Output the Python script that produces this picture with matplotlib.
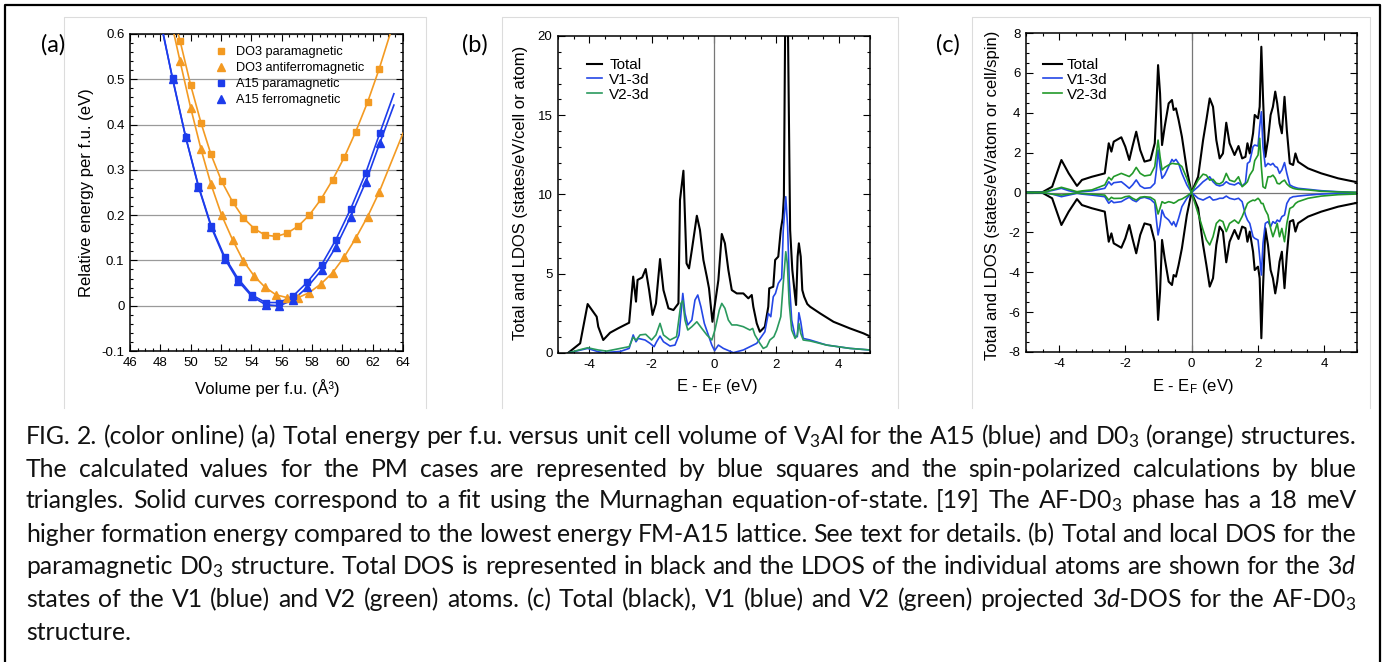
import numpy as np
import matplotlib
matplotlib.use("Agg")
import matplotlib.pyplot as plt
from matplotlib.ticker import MultipleLocator, FuncFormatter
from matplotlib.lines import Line2D

W, H = 1393, 662

# ---------------- panel (a): energy vs volume ----------------
vol_d03 = [49.30, 50.00, 50.68, 51.34, 52.04, 52.77, 53.47, 54.20, 54.90, 55.63,
           56.35, 57.10, 57.82, 58.59, 59.36, 60.13, 60.88, 61.67, 62.42]
e_d03_pm = [0.585, 0.487, 0.404, 0.334, 0.275, 0.229, 0.194, 0.170, 0.156, 0.153,
            0.160, 0.176, 0.200, 0.235, 0.278, 0.328, 0.384, 0.450, 0.522]
e_d03_af = [0.540, 0.437, 0.346, 0.268, 0.200, 0.145, 0.099, 0.065, 0.041, 0.024,
            0.018, 0.018, 0.029, 0.048, 0.073, 0.108, 0.149, 0.197, 0.250]

vol_a15 = [48.81, 49.67, 50.51, 51.36, 52.24, 53.12, 54.02, 54.95, 55.85, 56.77,
           57.69, 58.64, 59.58, 60.55, 61.54, 62.48]
e_a15_pm = [0.502, 0.373, 0.265, 0.176, 0.108, 0.060, 0.024, 0.007, 0.007, 0.022,
            0.052, 0.091, 0.146, 0.214, 0.293, 0.382]
e_a15_fm = [0.500, 0.372, 0.263, 0.173, 0.104, 0.055, 0.021, 0.002, 0.000, 0.013,
            0.041, 0.079, 0.130, 0.197, 0.273, 0.360]

# where the fitted curves leave the frame (volume, energy)
fit_left = {"d03_pm": (49.18, 0.6), "d03_af": (48.90, 0.6), "a15_pm": (48.18, 0.6), "a15_fm": (48.20, 0.6)}
fit_right = {"d03_pm": (63.15, 0.6), "d03_af": (64.0, 0.381), "a15_pm": (63.4, 0.468), "a15_fm": (63.4, 0.443)}

# ---------------- panel (b): DOS of paramagnetic D03 ----------------
b_tot_e = [-4.68, -4.29, -4.05, -3.76, -3.71, -3.55, -3.33, -3.07, -2.72, -2.59,
           -2.50, -2.45, -2.30, -2.19, -2.08, -1.97, -1.86, -1.73, -1.62, -1.46,
           -1.30, -1.14, -1.09, -0.98, -0.88, -0.80, -0.71, -0.55, -0.45, -0.34,
           -0.23, -0.16, -0.05, 0.14, 0.25, 0.35, 0.46, 0.57, 0.73, 0.94,
           1.10, 1.21, 1.26, 1.37, 1.47, 1.63, 1.74, 1.77, 1.90, 1.96,
           2.06, 2.14, 2.20, 2.24, 2.28, 2.32, 2.37, 2.44, 2.51, 2.60,
           2.63, 2.68, 2.72, 2.78, 2.83, 2.89, 2.99, 3.08, 3.40, 3.83,
           4.36, 4.79, 5.0]
b_tot = [0.0, 0.61, 3.09, 2.29, 1.66, 0.82, 1.28, 1.56, 1.91, 4.82,
         3.24, 4.61, 4.77, 5.30, 3.97, 2.40, 3.13, 5.93, 3.97, 2.82,
         2.71, 3.13, 9.65, 11.50, 5.65, 5.34, 6.50, 8.66, 7.76, 5.87,
         4.81, 4.08, 1.97, 4.60, 7.51, 6.92, 5.24, 3.97, 3.76, 3.76,
         3.45, 3.66, 2.92, 1.87, 1.34, 1.66, 2.92, 4.08, 4.18, 5.87,
         6.08, 7.76, 8.50, 9.86, 20.5, 25.0, 20.5, 7.76, 5.24, 3.55,
         3.03, 6.08, 6.92, 6.08, 3.97, 3.55, 3.09, 2.92, 2.50, 1.97,
         1.55, 1.24, 1.05]

b_v1_e = [-4.68, -4.05, -3.71, -3.55, -3.00, -2.72, -2.59, -2.50, -2.43, -2.21,
          -2.05, -1.92, -1.84, -1.73, -1.62, -1.41, -1.25, -1.12, -1.00, -0.93,
          -0.84, -0.71, -0.61, -0.52, -0.42, -0.31, -0.20, -0.07, 0.02, 0.14,
          0.30, 0.62, 0.94, 1.37, 1.63, 1.74, 1.82, 1.90, 1.97, 2.06,
          2.17, 2.22, 2.30, 2.36, 2.41, 2.49, 2.60, 2.67, 2.72, 2.78,
          2.86, 3.08, 3.61, 4.36, 5.0]
b_v1 = [0.0, 0.29, 0.08, 0.02, 0.10, 0.29, 1.14, 0.71, 0.92, 0.82,
        0.61, 0.40, 0.71, 1.07, 0.71, 0.44, 0.50, 1.14, 3.76, 2.50,
        1.77, 2.08, 3.34, 3.66, 2.92, 1.87, 1.24, 0.50, 0.15, 0.50,
        0.29, 0.02, 0.19, 0.61, 1.34, 2.50, 2.29, 3.55, 3.76, 4.39,
        4.71, 7.76, 9.86, 7.97, 4.61, 2.08, 1.03, 1.03, 2.54, 1.97,
        0.92, 0.82, 0.50, 0.29, 0.19]

b_v2_e = [-4.68, -4.29, -4.05, -3.71, -3.44, -2.72, -2.59, -2.50, -2.37, -2.19,
          -2.00, -1.86, -1.73, -1.62, -1.41, -1.20, -1.06, -1.00, -0.93, -0.84,
          -0.71, -0.55, -0.39, -0.23, -0.07, 0.03, 0.17, 0.25, 0.35, 0.46,
          0.57, 0.73, 0.94, 1.15, 1.24, 1.31, 1.47, 1.58, 1.69, 1.79,
          1.92, 2.01, 2.14, 2.22, 2.30, 2.35, 2.41, 2.49, 2.60, 2.67,
          2.72, 2.78, 2.86, 3.08, 3.61, 4.36, 5.0]
b_v2 = [0.0, 0.21, 0.33, 0.19, 0.12, 0.40, 1.00, 0.80, 1.14, 1.18,
        0.82, 1.14, 1.87, 1.14, 0.82, 1.03, 3.13, 3.30, 2.08, 1.45,
        1.66, 1.97, 1.55, 1.14, 0.82, 1.45, 2.71, 3.13, 2.82, 2.08,
        1.77, 1.77, 1.66, 1.45, 1.55, 1.14, 0.61, 0.29, 0.40, 0.82,
        1.03, 1.45, 2.29, 4.39, 6.39, 5.65, 3.13, 1.45, 0.92, 1.14,
        1.87, 1.24, 0.82, 0.76, 0.50, 0.29, 0.19]

# ---------------- panel (c): spin-resolved DOS of AF-D03 ----------------
c_e = [-4.97, -4.52, -4.21, -3.93, -3.71, -3.46, -3.31, -3.01, -2.62, -2.50,
       -2.42, -2.35, -2.12, -2.00, -1.88, -1.78, -1.67, -1.55, -1.42, -1.24,
       -1.11, -1.06, -1.01, -0.95, -0.89, -0.81, -0.69, -0.59, -0.54, -0.47,
       -0.39, -0.29, -0.14, 0.00, 0.20, 0.35, 0.45, 0.55, 0.65, 0.75,
       0.85, 0.95, 1.05, 1.15, 1.30, 1.42, 1.53, 1.63, 1.69, 1.76,
       1.86, 1.91, 2.01, 2.06, 2.11, 2.16, 2.23, 2.31, 2.39, 2.46,
       2.53, 2.59, 2.66, 2.73, 2.81, 2.88, 2.97, 3.07, 3.14, 3.22,
       3.52, 3.92, 4.43, 4.93, 5.00]
c_tot = [0.0, 0.0, 0.29, 1.63, 0.96, 0.33, 0.63, 0.79, 0.96, 2.47,
         2.05, 2.55, 2.77, 2.30, 1.63, 2.33, 3.05, 2.13, 1.55, 1.63,
         2.47, 4.30, 6.39, 4.97, 2.38, 3.30, 4.47, 4.64, 4.14, 4.22,
         3.64, 2.80, 1.13, 0.0, 0.79, 2.63, 3.64, 4.72, 4.30, 2.63,
         1.71, 1.96, 3.50, 2.47, 1.88, 2.33, 1.71, 1.79, 2.47, 1.96,
         2.97, 3.89, 3.72, 4.30, 7.31, 4.80, 1.79, 2.63, 3.89, 4.30,
         5.06, 4.47, 3.47, 2.97, 4.80, 3.13, 1.46, 1.38, 1.96, 1.54,
         1.21, 0.96, 0.71, 0.54, 0.53]
c_v1_up = [0.0, 0.0, 0.10, 0.21, 0.09, 0.0, 0.04, 0.08, 0.21, 0.54,
           0.38, 0.49, 0.54, 0.38, 0.21, 0.38, 0.63, 0.33, 0.21, 0.24,
           0.46, 1.13, 2.13, 1.30, 0.71, 0.88, 1.30, 1.66, 1.55, 1.66,
           1.46, 0.96, 0.38, 0.0, 0.29, 0.54, 0.66, 0.79, 0.54, 0.38,
           0.33, 0.38, 0.54, 0.43, 0.38, 0.49, 0.33, 0.49, 1.46, 1.55,
           2.30, 2.38, 2.33, 3.30, 4.05, 2.30, 1.30, 1.46, 1.38, 1.46,
           1.30, 1.26, 0.96, 1.13, 1.50, 0.96, 0.38, 0.29, 0.25, 0.21,
           0.16, 0.09, 0.04, 0.01, 0.01]
c_v2_up = [0.0, 0.0, 0.13, 0.26, 0.16, 0.04, 0.08, 0.13, 0.38, 0.76,
           0.63, 0.80, 0.96, 0.88, 0.80, 0.96, 1.26, 0.96, 0.83, 0.88,
           1.30, 1.96, 2.63, 1.80, 1.13, 1.26, 1.38, 1.46, 1.45, 1.43,
           1.43, 1.30, 0.71, 0.0, 0.62, 0.92, 0.87, 0.62, 0.66, 0.46,
           0.43, 0.54, 0.96, 0.62, 0.54, 0.79, 0.29, 0.43, 0.54, 0.87,
           1.13, 1.60, 1.88, 2.72, 1.30, 0.29, 0.21, 0.79, 0.79, 0.87,
           0.71, 0.46, 0.43, 0.54, 0.62, 0.43, 0.29, 0.21, 0.18, 0.16,
           0.13, 0.06, 0.03, 0.01, 0.01]
c_v1_dn = [0.0, 0.0, -0.08, -0.21, -0.13, -0.04, -0.08, -0.13, -0.21, -0.54,
           -0.41, -0.51, -0.46, -0.34, -0.24, -0.38, -0.46, -0.29, -0.24, -0.34,
           -0.54, -1.38, -2.13, -1.63, -0.88, -1.21, -1.38, -1.63, -1.46, -1.71,
           -1.30, -0.71, -0.29, 0.0, -0.29, -0.38, -0.29, -0.21, -0.38, -0.35,
           -0.29, -0.29, -0.18, -0.29, -0.35, -0.29, -0.46, -1.13, -1.38, -1.55,
           -2.22, -2.30, -2.38, -3.22, -4.14, -2.55, -1.55, -1.46, -1.71, -1.46,
           -1.55, -1.38, -1.46, -1.21, -1.13, -0.55, -0.29, -0.21, -0.20, -0.18,
           -0.13, -0.08, -0.04, -0.03, -0.03]
c_v2_dn = [0.0, 0.0, -0.08, -0.13, -0.08, -0.02, -0.05, -0.08, -0.13, -0.38,
           -0.24, -0.30, -0.29, -0.21, -0.18, -0.29, -0.38, -0.24, -0.21, -0.24,
           -0.38, -0.71, -1.08, -0.79, -0.46, -0.54, -0.46, -0.50, -0.54, -0.48,
           -0.38, -0.33, -0.18, 0.0, -1.05, -1.88, -2.38, -2.63, -2.22, -1.55,
           -1.38, -1.46, -1.96, -1.55, -1.38, -1.55, -1.21, -0.80, -0.55, -0.46,
           -0.38, -0.41, -0.29, -0.38, -0.55, -0.55, -0.88, -1.13, -1.80, -2.22,
           -1.88, -1.55, -2.22, -1.80, -2.47, -1.55, -0.80, -0.71, -0.55, -0.46,
           -0.29, -0.18, -0.11, -0.08, -0.08]

caption_lines = [
    "FIG. 2. (color online) (a) Total energy per f.u. versus unit cell volume of V$_3$Al for the A15 (blue) and D0$_3$ (orange) structures.",
    "The calculated values for the PM cases are represented by blue squares and the spin-polarized calculations by blue",
    "triangles. Solid curves correspond to a fit using the Murnaghan equation-of-state. [19] The AF-D0$_3$ phase has a 18 meV",
    "higher formation energy compared to the lowest energy FM-A15 lattice. See text for details. (b) Total and local DOS for the",
    "paramagnetic D0$_3$ structure. Total DOS is represented in black and the LDOS of the individual atoms are shown for the 3$d$",
    "states of the V1 (blue) and V2 (green) atoms. (c) Total (black), V1 (blue) and V2 (green) projected 3$d$-DOS for the AF-D0$_3$",
    "structure.",
]

ORANGE = "#F39A22"
BLUE_A = "#1D3CEB"
BLUE = "#2447E6"
GREEN_B = "#2A9A5E"
GREEN_C = "#22992A"

plt.rc("font", family="Liberation Sans", size=9.5)
plt.rc("axes", unicode_minus=False)
plt.rc("mathtext", fontset="custom", rm="Lato", it="Lato:italic", sf="Liberation Sans")

fig = plt.figure(figsize=(W / 100, H / 100), dpi=100)


def ptext(x, y, s, **kw):
    return fig.text(x / W, 1 - y / H, s, **kw)


def px_axes(left, top, right, bottom):
    return fig.add_axes([left / W, 1 - bottom / H, (right - left) / W, (bottom - top) / H])


def style(ax):
    ax.tick_params(which="both", direction="in", top=True, right=True, width=0.8, labelsize=9.5, pad=4)
    ax.tick_params(which="major", length=5)
    ax.tick_params(which="minor", length=2.5)
    for s in ax.spines.values():
        s.set_linewidth(1.1)


def frame_line(xs, ys, **kw):
    fig.add_artist(Line2D([x / W for x in xs], [1 - y / H for y in ys], transform=fig.transFigure, **kw))


# outer box and the faint frames of the three images
frame_line([5, 5, 1380, 1380], [700, 5, 5, 700], color="black", lw=1.6)
for l, r in [(64, 426), (502, 898), (972, 1370)]:
    frame_line([l, l, r, r], [408, 17, 17, 408], color="#dcdcdc", lw=0.8)

# ---------------- (a) ----------------
ax = px_axes(130, 34, 403, 351)
style(ax)
ax.set_axisbelow(True)
ax.yaxis.grid(True, which="major", color="#9a9a9a", lw=0.9)
for key, vols, es, col in [("d03_pm", vol_d03, e_d03_pm, ORANGE), ("d03_af", vol_d03, e_d03_af, ORANGE),
                           ("a15_pm", vol_a15, e_a15_pm, BLUE_A), ("a15_fm", vol_a15, e_a15_fm, BLUE_A)]:
    xs = [fit_left[key][0]] + vols + [fit_right[key][0]]
    ys = [fit_left[key][1]] + es + [fit_right[key][1]]
    ax.plot(xs, ys, color=col, lw=1.2, zorder=3)
ax.plot(vol_d03, e_d03_pm, "s", color=ORANGE, ms=5, ls="none", label="DO3 paramagnetic", zorder=4)
ax.plot(vol_d03, e_d03_af, "^", color=ORANGE, ms=5.5, ls="none", label="DO3 antiferromagnetic", zorder=4)
ax.plot(vol_a15, e_a15_pm, "s", color=BLUE_A, ms=5, ls="none", label="A15 paramagnetic", zorder=4)
ax.plot(vol_a15, e_a15_fm, "^", color=BLUE_A, ms=5.5, ls="none", label="A15 ferromagnetic", zorder=4)
ax.set_xlim(46, 64)
ax.set_ylim(-0.1, 0.6)
ax.xaxis.set_major_locator(MultipleLocator(2))
ax.xaxis.set_minor_locator(MultipleLocator(0.5))
ax.yaxis.set_major_locator(MultipleLocator(0.1))
ax.yaxis.set_minor_locator(MultipleLocator(0.02))
ax.yaxis.set_major_formatter(FuncFormatter(lambda v, _: "0" if abs(v) < 1e-9 else f"{v:.1f}"))
ax.legend(loc="upper left", bbox_to_anchor=(215 / W, 1 - 46 / H), bbox_transform=fig.transFigure,
          frameon=False, borderpad=0, borderaxespad=0, handlelength=1.0, handletextpad=0.65,
          labelspacing=0.32, fontsize=9.2, numpoints=1)
ptext(87, 193, "Relative energy per f.u. (eV)", rotation=90, ha="center", va="center", fontsize=12)
ptext(267, 388, "Volume per f.u. (Å³)", ha="center", va="center", fontsize=12)

# ---------------- (b) ----------------
ax = px_axes(558, 36, 870, 353)
style(ax)
ax.axvline(0, color="#777777", lw=0.9)
ax.plot(b_tot_e, b_tot, color="black", lw=1.5, label="Total")
ax.plot(b_v1_e, b_v1, color=BLUE, lw=1.2, label="V1-3d")
ax.plot(b_v2_e, b_v2, color=GREEN_B, lw=1.2, label="V2-3d")
ax.set_xlim(-5, 5)
ax.set_ylim(0, 20)
ax.xaxis.set_major_locator(MultipleLocator(2))
ax.xaxis.set_minor_locator(MultipleLocator(0.5))
ax.yaxis.set_major_locator(MultipleLocator(5))
ax.yaxis.set_minor_locator(MultipleLocator(1))
ax.legend(loc="upper left", bbox_to_anchor=(587 / W, 1 - 58 / H), bbox_transform=fig.transFigure,
          frameon=False, borderpad=0, borderaxespad=0, handlelength=1.0, handletextpad=0.45,
          labelspacing=0.05, fontsize=11)
ptext(520, 193, "Total and LDOS (states/eV/cell or atom)", rotation=90, ha="center", va="center", fontsize=12)
ptext(717, 386, r"E - E$_\mathsf{F}$ (eV)", ha="center", va="center", fontsize=12)

# ---------------- (c) ----------------
ax = px_axes(1026, 33, 1357, 352)
style(ax)
ax.axvline(0, color="#777777", lw=0.9)
ax.axhline(0, color="#777777", lw=0.9)
c_tot_dn = [-v for v in c_tot]
ax.plot(c_e, c_tot, color="black", lw=1.5, label="Total")
ax.plot(c_e, c_tot_dn, color="black", lw=1.5)
ax.plot(c_e, c_v1_up, color=BLUE, lw=1.2, label="V1-3d")
ax.plot(c_e, c_v1_dn, color=BLUE, lw=1.2)
ax.plot(c_e, c_v2_up, color=GREEN_C, lw=1.2, label="V2-3d")
ax.plot(c_e, c_v2_dn, color=GREEN_C, lw=1.2)
ax.set_xlim(-5, 5)
ax.set_ylim(-8, 8)
ax.xaxis.set_major_locator(MultipleLocator(2))
ax.xaxis.set_minor_locator(MultipleLocator(0.5))
ax.yaxis.set_major_locator(MultipleLocator(2))
ax.yaxis.set_minor_locator(MultipleLocator(0.5))
ax.legend(loc="upper left", bbox_to_anchor=(1043 / W, 1 - 58 / H), bbox_transform=fig.transFigure,
          frameon=False, borderpad=0, borderaxespad=0, handlelength=1.25, handletextpad=0.32,
          labelspacing=0.05, fontsize=11)
ptext(992, 195, "Total and LDOS (states/eV/atom or cell/spin)", rotation=90, ha="center", va="center", fontsize=12)
ptext(1193, 386, r"E - E$_\mathsf{F}$ (eV)", ha="center", va="center", fontsize=12)

# panel letters
for x, s in [(41, "(a)"), (462, "(b)"), (936, "(c)")]:
    ptext(x, 45, s, family="Lato", fontsize=17, va="center", ha="left")

# ---------------- caption, justified ----------------
cap_x0, cap_x1 = 26, 1356
cap_base = [444, 477, 508, 542, 574, 607, 640]
renderer = fig.canvas.get_renderer()
cap_fs = 16.0
words = [[ptext(0, 0, w, family="Lato", fontsize=cap_fs, va="baseline", color="#111111") for w in line.split(" ")]
         for line in caption_lines]


def measure():
    return [[t.get_window_extent(renderer).width for t in row] for row in words]


# size the caption so the tightest line just fills the text width
ws = measure()
space = 0.23 * cap_fs * 100 / 72
natural = max(sum(r) + space * (len(r) - 1) for r in ws[:-1])
scale = (cap_x1 - cap_x0) / natural
for row in words:
    for t in row:
        t.set_fontsize(cap_fs * scale)
ws = measure()
space = 0.23 * cap_fs * scale * 100 / 72
for i, (row, wr) in enumerate(zip(words, ws)):
    if i < len(words) - 1 and len(row) > 1:
        gap = (cap_x1 - cap_x0 - sum(wr)) / (len(row) - 1)
    else:
        gap = space
    x = cap_x0
    for t, w in zip(row, wr):
        t.set_position((x / W, 1 - cap_base[i] / H))
        x += w + gap

fig.savefig("out.png", dpi=100)
